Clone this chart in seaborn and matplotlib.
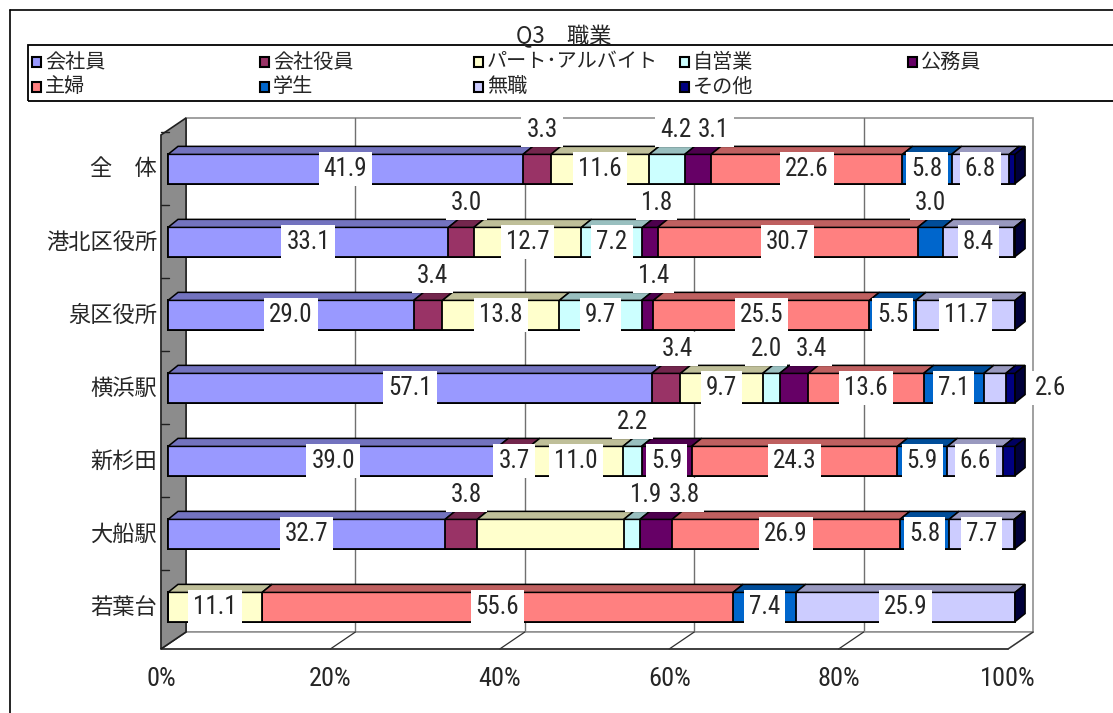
import numpy as np
import pandas as pd
import matplotlib
matplotlib.use("Agg")
import matplotlib.pyplot as plt
from matplotlib.patches import Polygon, Rectangle
from matplotlib.colors import to_rgb
from matplotlib import font_manager
import seaborn as sns

# ---------------- data ----------------
categories = ["全　体", "港北区役所", "泉区役所", "横浜駅", "新杉田", "大船駅", "若葉台"]
series = ["会社員", "会社役員", "パート･アルバイト", "自営業", "公務員",
          "主婦", "学生", "無職", "その他"]

kaishain = [41.9, 33.1, 29.0, 57.1, 39.0, 32.7, 0.0]
yakuin = [3.3, 3.0, 3.4, 3.4, 3.7, 3.8, 0.0]
part = [11.6, 12.7, 13.8, 9.7, 11.0, 17.3, 11.1]
jieigyo = [4.2, 7.2, 9.7, 2.0, 2.2, 1.9, 0.0]
koumuin = [3.1, 1.8, 1.4, 3.4, 5.9, 3.8, 0.0]
shufu = [22.6, 30.7, 25.5, 13.6, 24.3, 26.9, 55.6]
gakusei = [5.8, 3.0, 5.5, 7.1, 5.9, 5.8, 7.4]
mushoku = [6.8, 8.4, 11.7, 2.6, 6.6, 7.7, 25.9]
sonota = [0.7, 0.1, 0.0, 1.1, 1.4, 0.1, 0.0]

xticks = [0, 20, 40, 60, 80, 100]
xtick_labels = ["0%", "20%", "40%", "60%", "80%", "100%"]

colors = ["#9999FF", "#993366", "#FFFFCC", "#CCFFFF", "#660066",
          "#FF8080", "#0066CC", "#CCCCFF", "#000080"]

# label placement (row, series): lifted above the bar (x nudge) / right of the bar / hidden
above = {(0, 1): 0.6, (0, 3): 1.0, (0, 4): 1.8,
         (1, 1): 0.6, (1, 4): 0.8, (1, 6): 0.0,
         (2, 1): 0.5, (2, 4): 0.7,
         (3, 1): 1.3, (3, 3): -0.6, (3, 4): 2.0,
         (4, 3): 0.0,
         (5, 1): 0.6, (5, 3): 1.6, (5, 4): 3.3}
right = {(3, 7)}
hidden = {(5, 2)}

df = pd.DataFrame(dict(zip(series, [kaishain, yakuin, part, jieigyo, koumuin,
                                    shufu, gakusei, mushoku, sonota])),
                  index=categories)
cum = df.cumsum(axis=1)

# ---------------- style ----------------
sns.set_theme(style="white")
JP = ["Noto Sans CJK JP", "DejaVu Sans"]
installed = {f.name for f in font_manager.fontManager.ttflist}
narrow = [n for n in ["Liberation Sans Narrow", "Roboto Condensed", "Open Sans Condensed"]
          if n in installed]
NUM = narrow + ["Liberation Sans", "DejaVu Sans"]
num_size = 18 if narrow else 15.5
tick_size = 19 if narrow else 17
plt.rcParams["font.family"] = JP

W, H = 1113, 713
fig = plt.figure(figsize=(W / 100, H / 100), dpi=100)
fig.patch.set_facecolor("white")

# axes: x in percent (bar front face), y in category index
ax = fig.add_axes([150 / W, (H - 660) / H, 910 / W, 550 / H])


def shade(c, f):
    r, g, b = to_rgb(c)
    return (r * f, g * f, b * f)


# 3D frame (walls and floor)
f_x0, b_x0 = -0.83, 2.13        # front / back origin of 0 %
f_y, b_y = 6.575, 6.342         # floor front / back edge
top_b, top_f = -0.699, -0.466   # top of back wall / wall front edge

ax.add_patch(Rectangle((b_x0, top_b), 100, b_y - top_b, facecolor="white",
                       edgecolor="#909090", lw=1.2, zorder=0))
for v in xticks[1:-1]:
    ax.plot([v + b_x0, v + b_x0], [b_y, top_b], color="#707070", lw=1.0, zorder=1)
ax.add_patch(Polygon([(f_x0, f_y), (f_x0 + 100, f_y), (b_x0 + 100, b_y), (b_x0, b_y)],
                     closed=True, facecolor="white", edgecolor="#909090", lw=1.2, zorder=1))
ax.plot([f_x0, f_x0 + 100], [f_y, f_y], color="#303030", lw=1.2, zorder=2)
for v in xticks:
    ax.plot([v + f_x0, v + b_x0], [f_y, b_y], color="#303030", lw=0.9, zorder=2)
ax.add_patch(Polygon([(f_x0, f_y), (b_x0, b_y), (b_x0, top_b), (f_x0, top_f)],
                     closed=True, facecolor="#8C8C8C", edgecolor="#202020", lw=1.2, zorder=2))
for c in np.arange(-0.5, 6.0, 1.0):
    ax.plot([f_x0, f_x0 + 1.0], [c, c], color="#202020", lw=1.0, zorder=2)

# stacked bars: cumulative totals drawn from the back layer forward
bar_h = 0.4
for i in reversed(range(len(series))):
    sns.barplot(x=cum[series[i]].values, y=categories, order=categories, orient="h",
                color=colors[i], saturation=1, width=bar_h, edgecolor="black",
                linewidth=1.3, ax=ax, zorder=3)
ax.set_xlim(-2.125, 105.3)
ax.set_ylim(6.726, -0.808)
ax.axis("off")

# top and end faces of the 3D bars
dx, dy = 1.18, 0.11
for r in range(len(categories)):
    yt = r - bar_h / 2
    yb = r + bar_h / 2
    for i in range(len(series)):
        val = df.iloc[r, i]
        if val <= 0:
            continue
        right_edge = cum.iloc[r, i]
        left_edge = right_edge - val
        ax.add_patch(Polygon([(left_edge, yt), (right_edge, yt),
                              (right_edge + dx, yt - dy), (left_edge + dx, yt - dy)],
                             closed=True, facecolor=shade(colors[i], 0.75),
                             edgecolor="black", lw=1.1, zorder=4))
    end = cum.iloc[r, -1]
    ax.add_patch(Polygon([(end, yt), (end + dx, yt - dy), (end + dx, yb - dy), (end, yb)],
                         closed=True, facecolor=shade(colors[-1], 0.45),
                         edgecolor="black", lw=1.1, zorder=4))

# data labels
box = dict(boxstyle="square,pad=0.2", facecolor="white", edgecolor="none")
for r in range(len(categories)):
    for i in range(len(series) - 1):
        val = df.iloc[r, i]
        if val <= 0 or (r, i) in hidden:
            continue
        mid = cum.iloc[r, i] - val / 2
        if (r, i) in above:
            x, y = mid + above[(r, i)], r - 0.53
        elif (r, i) in right:
            x, y = 104.2, r
        else:
            x, y = mid, r
        ax.text(x, y, f"{val:.1f}", ha="center", va="center", fontsize=num_size,
                family=NUM, bbox=box, zorder=6)

# category labels and percent axis
for r, name in enumerate(categories):
    ax.text(-1.3, r, name, ha="right", va="center", fontsize=16, family=JP)
for v, lab in zip(xticks, xtick_labels):
    ax.text(v + f_x0, 6.99, lab, ha="center", va="center", fontsize=tick_size,
            family=NUM, clip_on=False)

# outer frame, title and legend box
fig.add_artist(plt.Line2D([10 / W, 1], [1 - 10 / H, 1 - 10 / H], color="black", lw=1.2))
fig.add_artist(plt.Line2D([10 / W, 10 / W], [0, 1 - 10 / H], color="black", lw=1.2))
fig.text(564 / W, 1 - 37 / H, "Q3　職業", ha="center", va="center", fontsize=16, family=JP)
fig.add_artist(Rectangle((28 / W, 1 - 101 / H), 1 - 28 / W + 0.01, 56 / H,
                         transform=fig.transFigure, facecolor="none",
                         edgecolor="black", lw=1.3))
leg_x = [32, 260, 474, 680, 908]
leg_y = [62, 87]
for k, name in enumerate(series):
    row, col = divmod(k, 5)
    x0, y0 = leg_x[col], leg_y[row]
    fig.add_artist(Rectangle((x0 / W, 1 - (y0 + 4.5) / H), 9 / W, 9 / H,
                             transform=fig.transFigure, facecolor=colors[k],
                             edgecolor="black", lw=1.5))
    fig.text((x0 + 13) / W, 1 - y0 / H, name, ha="left", va="center",
             fontsize=14.5, family=JP)

fig.savefig("out.png", dpi=100)
